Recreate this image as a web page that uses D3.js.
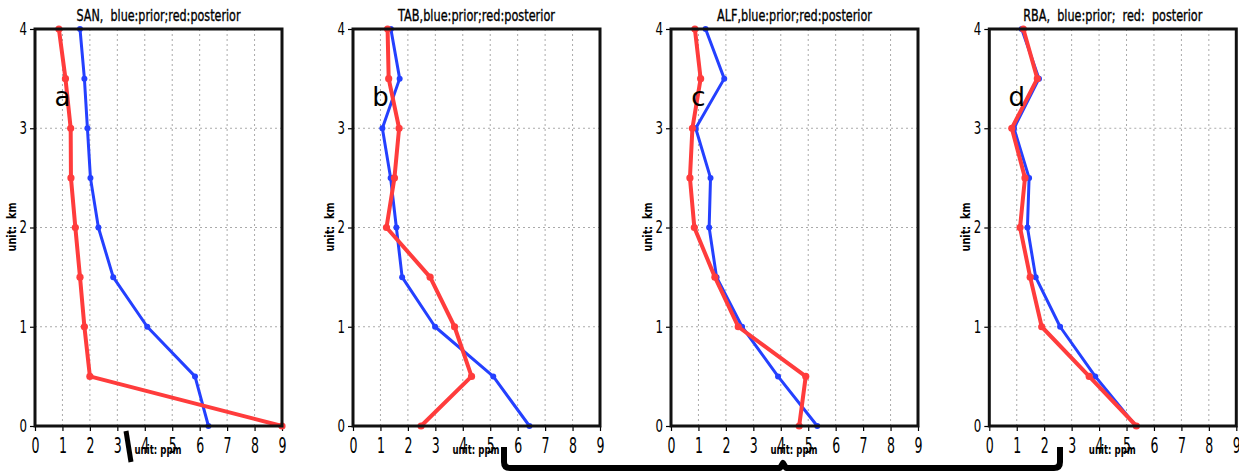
<!DOCTYPE html>
<html><head><meta charset="utf-8">
<script src="https://cdn.jsdelivr.net/npm/d3@7"></script>
<style>
html,body{margin:0;padding:0;background:#fff;}
svg{display:block;}
text{font-family:"DejaVu Sans","Liberation Sans",sans-serif;fill:#000;}
</style></head>
<body>
<svg id="chart" width="1239" height="472"></svg>
<script>
// ---- data ----
const heights = [0, 0.5, 1, 1.5, 2, 2.5, 3, 3.5, 4];           // km
const xTicks = [0,1,2,3,4,5,6,7,8,9];
const yTicks = [0,1,2,3,4];
const titles = ["SAN,  blue:prior;red:posterior", "TAB,blue:prior;red:posterior",
                "ALF,blue:prior;red:posterior", "RBA,  blue:prior;  red:  posterior"];
const panelLetters = ["a","b","c","d"];
const priorSAN = [6.32, 5.83, 4.09, 2.85, 2.31, 2.02, 1.91, 1.80, 1.64];
const postSAN  = [9.00, 2.00, 1.80, 1.64, 1.47, 1.31, 1.30, 1.11, 0.87];
const priorTAB = [6.43, 5.11, 2.99, 1.79, 1.58, 1.37, 1.07, 1.70, 1.38];
const postTAB  = [2.48, 4.32, 3.70, 2.81, 1.22, 1.51, 1.68, 1.30, 1.26];
const priorALF = [5.33, 3.90, 2.59, 1.66, 1.39, 1.44, 0.90, 1.94, 1.26];
const postALF  = [4.67, 4.91, 2.45, 1.60, 0.85, 0.69, 0.78, 1.08, 0.87];
const priorRBA = [5.34, 3.86, 2.58, 1.69, 1.39, 1.45, 0.90, 1.81, 1.18];
const postRBA  = [5.36, 3.64, 1.91, 1.49, 1.12, 1.30, 0.82, 1.75, 1.24];
const priors = [priorSAN, priorTAB, priorALF, priorRBA];
const posts  = [postSAN, postTAB, postALF, postRBA];

// ---- layout ----
const svg = d3.select("#chart");
const lefts = [35, 353, 671, 989.3];
const titleWidths = [164, 157, 155, 179];
const pw = 247, plotTop = 29, plotBottom = 426;
const blue = "#2440ff", red = "#ff3c3c";

lefts.forEach((L, i) => {
  const x = d3.scaleLinear().domain([0, 9]).range([L, L + pw]);
  const y = d3.scaleLinear().domain([0, 4]).range([plotBottom, plotTop]);
  const g = svg.append("g");

  // grid
  g.selectAll(".gx").data(xTicks.slice(1, -1)).enter().append("line")
    .attr("x1", d => x(d)).attr("x2", d => x(d)).attr("y1", plotTop).attr("y2", plotBottom)
    .attr("stroke", "#aaa").attr("stroke-width", 1).attr("stroke-dasharray", "2,3");
  g.selectAll(".gy").data(yTicks.slice(1, -1)).enter().append("line")
    .attr("y1", d => y(d)).attr("y2", d => y(d)).attr("x1", L).attr("x2", L + pw)
    .attr("stroke", "#aaa").attr("stroke-width", 1).attr("stroke-dasharray", "2,3");

  // axes
  const xAxis = d3.axisBottom(x).tickValues(xTicks).tickSize(5).tickFormat(d3.format("d"));
  const gx = g.append("g").attr("transform", `translate(0,${plotBottom})`).call(xAxis);
  gx.select(".domain").remove();
  gx.selectAll("line").attr("stroke", "#000").attr("stroke-width", 1.2);
  gx.selectAll("text").attr("font-size", 21).attr("dy", 0).attr("y", 27)
    .attr("font-family", '"DejaVu Sans",sans-serif').attr("fill", "#000")
    .attr("textLength", 8).attr("lengthAdjust", "spacingAndGlyphs");

  const yAxis = d3.axisLeft(y).tickValues(yTicks).tickSize(5).tickFormat(d3.format("d"));
  const gy = g.append("g").attr("transform", `translate(${L},0)`).call(yAxis);
  gy.select(".domain").remove();
  gy.selectAll("line").attr("stroke", "#000").attr("stroke-width", 1.2);
  gy.selectAll("text").attr("font-size", 17).attr("x", -8).attr("fill", "#000")
    .attr("font-family", '"DejaVu Sans",sans-serif')
    .attr("textLength", 7.5).attr("lengthAdjust", "spacingAndGlyphs");

  // lines
  const line = d3.line().x(d => x(d[0])).y(d => y(d[1]));
  const pr = priors[i].map((v, k) => [v, heights[k]]);
  const po = posts[i].map((v, k) => [v, heights[k]]);
  g.append("path").datum(pr).attr("d", line).attr("fill", "none")
    .attr("stroke", blue).attr("stroke-width", 3).attr("stroke-linejoin", "round");
  g.selectAll(".pb").data(pr).enter().append("circle")
    .attr("cx", d => x(d[0])).attr("cy", d => y(d[1])).attr("r", 3).attr("fill", blue);
  g.append("path").datum(po).attr("d", line).attr("fill", "none")
    .attr("stroke", red).attr("stroke-width", 4).attr("stroke-linejoin", "round");
  g.selectAll(".pr").data(po).enter().append("circle")
    .attr("cx", d => x(d[0])).attr("cy", d => y(d[1])).attr("r", 3.6).attr("fill", red);

  // frame
  g.append("rect").attr("x", L).attr("y", plotTop).attr("width", pw).attr("height", plotBottom - plotTop)
    .attr("fill", "none").attr("stroke", "#111").attr("stroke-width", 3);

  // titles and labels
  g.append("text").attr("x", L + pw / 2).attr("y", 21).attr("text-anchor", "middle")
    .attr("font-size", 15).attr("stroke", "#000").attr("stroke-width", 0.35)
    .style("white-space", "pre")
    .attr("textLength", titleWidths[i]).attr("lengthAdjust", "spacingAndGlyphs")
    .text(titles[i]);
  g.append("text").attr("transform", `translate(${L - 19},227) rotate(-90)`)
    .attr("text-anchor", "middle").attr("font-size", 12).attr("font-weight", "bold")
    .attr("textLength", 49).attr("lengthAdjust", "spacingAndGlyphs")
    .style("white-space", "pre").text("unit:  km");
  g.append("text").attr("x", L + 123).attr("y", 454).attr("text-anchor", "middle")
    .attr("font-size", 12).attr("font-weight", "bold")
    .attr("textLength", 47).attr("lengthAdjust", "spacingAndGlyphs").text("unit: ppm");
  g.append("text").attr("x", x(1)).attr("y", y(3.3) + 8).attr("text-anchor", "middle")
    .attr("font-size", 26).attr("font-family", '"DejaVu Sans","Liberation Sans",sans-serif')
    .text(panelLetters[i]);
});

// bracket annotations (overlay marks)
svg.append("path").attr("d", "M126,431 L131,462").attr("stroke", "#000")
  .attr("stroke-width", 5).attr("fill", "none");
svg.append("path")
  .attr("d", "M504,447 L504,462 Q504,468 510,468 L780,468 L783,463 L786,468 L1054,468 Q1060,468 1060,462 L1060,447")
  .attr("stroke", "#000").attr("stroke-width", 6).attr("fill", "none").attr("stroke-linejoin", "round");
</script>
</body></html>
